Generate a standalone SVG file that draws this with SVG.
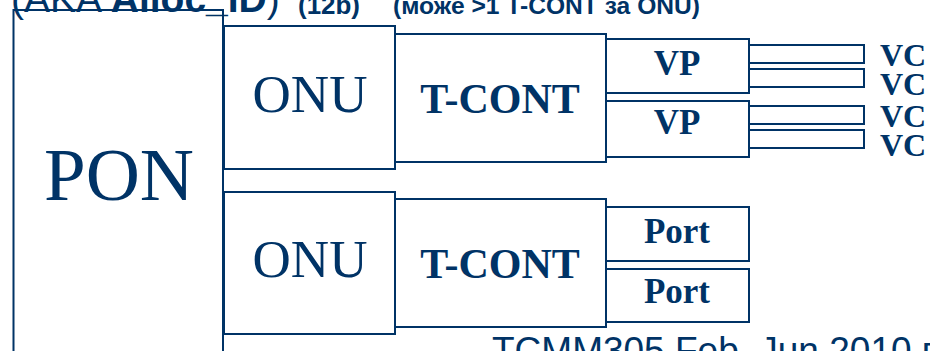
<svg xmlns="http://www.w3.org/2000/svg" width="930" height="351" viewBox="0 0 930 351">
<style>
.b{fill:#fff;stroke:#003366;stroke-width:2}
.t{fill:#003366;font-family:"Liberation Serif","Times New Roman",serif;text-anchor:middle}
.bd{font-weight:bold}
.s{fill:#003366;font-family:"Liberation Sans",Arial,sans-serif}
</style>
<rect width="930" height="351" fill="#fff"/>
<g id="PON">
<rect class="b" x="13.5" y="10" width="209.5" height="360"/>
<text class="t" x="119" y="200" font-size="75">PON</text>
</g>
<g id="ONU1">
<rect class="b" x="224" y="26" width="171" height="143"/>
<text class="t" x="310" y="112" font-size="53">ONU</text>
</g>
<g id="TCONT1">
<rect class="b" x="395" y="34" width="211" height="128"/>
<text class="t bd" x="500" y="113" font-size="42">T-CONT</text>
</g>
<g id="VP1">
<rect class="b" x="606" y="39" width="143" height="54"/>
<text class="t bd" x="677" y="75" font-size="35">VP</text>
</g>
<g id="VP2">
<rect class="b" x="606" y="101" width="143" height="56"/>
<text class="t bd" x="677" y="134" font-size="35">VP</text>
</g>
<g id="VC1">
<rect class="b" x="749" y="45" width="115" height="18"/>
<text class="t bd" x="903" y="66" font-size="32">VC</text>
</g>
<g id="VC2">
<rect class="b" x="749" y="69" width="115" height="18"/>
<text class="t bd" x="903" y="95" font-size="32">VC</text>
</g>
<g id="VC3">
<rect class="b" x="749" y="106" width="115" height="18"/>
<text class="t bd" x="903" y="127" font-size="32">VC</text>
</g>
<g id="VC4">
<rect class="b" x="749" y="130" width="115" height="18"/>
<text class="t bd" x="903" y="156" font-size="32">VC</text>
</g>
<g id="ONU2">
<rect class="b" x="224" y="192" width="171" height="142"/>
<text class="t" x="310" y="277" font-size="53">ONU</text>
</g>
<g id="TCONT2">
<rect class="b" x="395" y="199" width="211" height="128"/>
<text class="t bd" x="500" y="278" font-size="42">T-CONT</text>
</g>
<g id="Port1">
<rect class="b" x="606" y="207" width="143" height="54"/>
<text class="t bd" x="677" y="243" font-size="35">Port</text>
</g>
<g id="Port2">
<rect class="b" x="606" y="269" width="143" height="53"/>
<text class="t bd" x="677" y="303" font-size="35">Port</text>
</g>
<g id="connectors"/>
<g id="captions">
<text class="s" x="11" y="12" font-size="39">(AKA <tspan font-weight="bold">Alloc_ID</tspan>)</text>
<text class="s" x="298" y="14" font-size="25" font-weight="bold" textLength="62" lengthAdjust="spacingAndGlyphs">(12b)</text>
<text class="s" x="393" y="14" font-size="23" font-weight="bold" textLength="307" lengthAdjust="spacingAndGlyphs">(може  &gt;1 T-CONT за ONU)</text>
<text class="s" x="492" y="363" font-size="37">TCMM305 Feb. Jun 2010 г.</text>
</g>
</svg>
